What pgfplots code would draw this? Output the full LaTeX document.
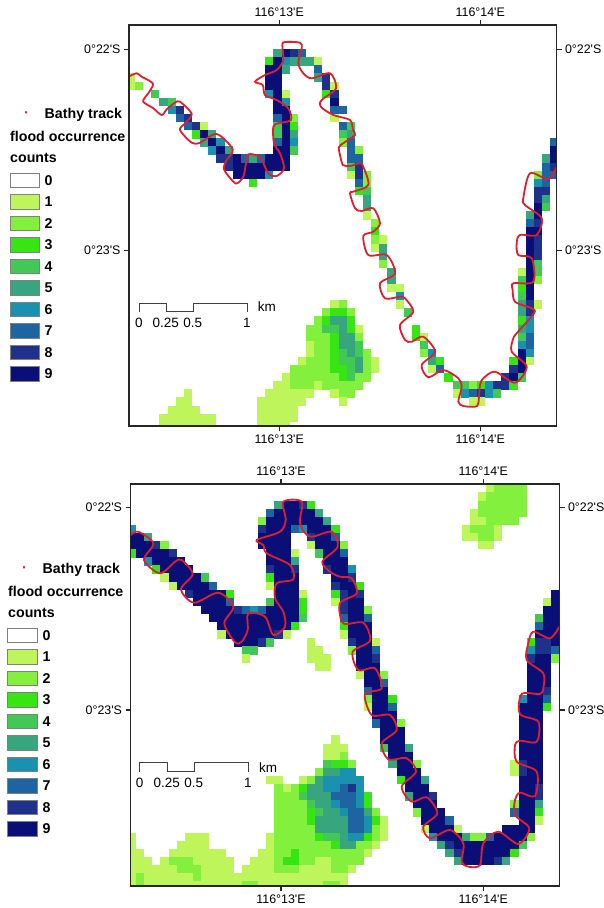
\documentclass[border=0pt]{standalone}
\usepackage{fontspec}
\setmainfont{Liberation Sans}[Ligatures=TeXOff]
\usepackage{pgfplots}
\usepackage{pgfplotstable}
\pgfplotsset{compat=1.18}
\definecolor{c1}{RGB}{190,245,90}
\definecolor{c2}{RGB}{130,240,60}
\definecolor{c3}{RGB}{55,228,20}
\definecolor{c4}{RGB}{65,200,85}
\definecolor{c5}{RGB}{55,165,125}
\definecolor{c6}{RGB}{25,145,175}
\definecolor{c7}{RGB}{30,100,160}
\definecolor{c8}{RGB}{30,50,140}
\definecolor{c9}{RGB}{10,15,120}
\definecolor{trk}{RGB}{225,30,45}
\pgfplotsset{
  colormap={flood}{
    rgb255(0cm)=(190,245,90); rgb255(9cm)=(190,245,90);
    rgb255(10cm)=(130,240,60); rgb255(19cm)=(130,240,60);
    rgb255(20cm)=(55,228,20);  rgb255(29cm)=(55,228,20);
    rgb255(30cm)=(65,200,85);  rgb255(39cm)=(65,200,85);
    rgb255(40cm)=(55,165,125); rgb255(49cm)=(55,165,125);
    rgb255(50cm)=(25,145,175); rgb255(59cm)=(25,145,175);
    rgb255(60cm)=(30,100,160); rgb255(69cm)=(30,100,160);
    rgb255(70cm)=(30,50,140);  rgb255(79cm)=(30,50,140);
    rgb255(80cm)=(10,15,120);  rgb255(90cm)=(10,15,120);
  },
  mapstyle/.style={
    scale only axis, clip=true,
    axis line style={line width=1.5pt,black!85},
    tick style={line width=1.1pt,black!85},
    major tick length=5pt, tick align=outside,
    tick pos=both,
    tick label style={font=\fontsize{12.4}{12.4}\selectfont},
    point meta min=0, point meta max=9,
    colormap name=flood,
  },
  topmap/.style={mapstyle,
    at={(129pt,-426pt)}, anchor=south west, width=427.5pt, height=401pt,
    xmin=129, xmax=556.5, ymin=-426, ymax=-25,
    xtick={279.3,480.3}, xticklabels={116°13'E,116°14'E},
    ytick={-250.7,-49.3}, yticklabels={0°23'S,0°22'S}},
  botmap/.style={mapstyle,
    at={(130.5pt,-886pt)}, anchor=south west, width=429pt, height=402pt,
    xmin=130.5, xmax=559.5, ymin=-886, ymax=-484,
    xtick={281,483.3}, xticklabels={116°13'E,116°14'E},
    ytick={-710,-507.3}, yticklabels={0°23'S,0°22'S}},
}
% rows of equal cells: first column, row, number of cells, flood count
\pgfplotstableread{
col row n c
18 3 1 5
19 3 1 9
20 3 1 8
21 3 1 7
17 4 1 3
18 4 1 9
19 4 1 6
20 4 3 5
23 4 1 1
17 5 2 9
19 5 1 5
23 5 1 7
0 6 1 1
17 6 2 9
23 6 1 5
24 6 1 8
0 7 1 1
1 7 1 2
17 7 2 9
24 7 1 8
25 7 1 1
3 8 1 4
17 8 1 6
18 8 1 9
19 8 1 1
24 8 1 3
25 8 1 8
4 9 1 5
5 9 1 4
18 9 1 9
19 9 1 6
25 9 1 9
5 10 1 6
6 10 1 8
18 10 2 9
25 10 2 7
6 11 1 7
7 11 1 8
18 11 1 7
19 11 1 9
20 11 1 2
25 11 1 1
7 12 1 7
8 12 1 8
9 12 1 1
18 12 1 4
19 12 1 9
20 12 1 3
26 12 1 7
27 12 1 4
8 13 1 3
9 13 1 9
10 13 1 5
18 13 1 4
19 13 1 9
20 13 1 5
26 13 1 4
27 13 1 5
9 14 1 5
10 14 1 9
11 14 1 6
18 14 1 7
19 14 1 9
20 14 1 6
26 14 1 2
27 14 1 7
52 14 1 7
10 15 1 6
11 15 1 9
12 15 1 5
18 15 2 9
20 15 1 4
27 15 1 7
28 15 1 2
52 15 1 9
11 16 2 8
13 16 1 9
14 16 1 7
15 16 1 5
16 16 1 7
17 16 3 9
27 16 1 7
28 16 1 7
51 16 1 5
52 16 1 9
12 17 1 8
13 17 7 9
27 17 1 4
28 17 1 8
51 17 1 7
52 17 1 8
13 18 4 9
17 18 1 6
27 18 1 1
28 18 1 8
29 18 1 2
50 18 1 2
51 18 2 7
15 19 1 3
28 19 1 7
29 19 1 2
50 19 1 6
51 19 1 7
28 20 1 3
29 20 1 4
50 20 2 8
29 21 1 5
50 21 1 8
51 21 1 5
29 22 1 5
50 22 1 9
51 22 1 4
29 23 1 1
49 23 1 5
50 23 1 9
30 24 1 2
49 24 1 7
50 24 1 8
30 25 1 3
49 25 2 9
30 26 1 2
31 26 1 1
49 26 1 9
50 26 1 8
30 27 1 1
31 27 1 5
49 27 1 9
50 27 1 8
31 28 1 5
49 28 1 9
50 28 1 8
31 29 1 2
49 29 1 9
50 29 1 4
32 30 1 5
48 30 1 1
49 30 1 9
50 30 1 4
32 31 1 5
48 31 1 4
49 31 1 9
50 31 1 2
32 32 2 1
48 32 1 3
49 32 1 9
33 33 1 6
48 33 1 4
49 33 1 9
33 34 1 1
48 34 1 5
49 34 1 8
50 34 1 1
25 34 1 1
26 34 1 2
34 35 1 4
48 35 1 5
49 35 1 8
24 35 1 2
25 35 2 3
27 35 1 2
48 36 1 3
49 36 1 6
23 36 1 2
24 36 1 3
25 36 2 5
27 36 1 3
35 37 1 3
48 37 1 5
49 37 1 6
22 37 2 2
24 37 2 4
26 37 1 5
27 37 1 3
28 37 1 1
35 38 1 3
36 38 1 1
48 38 1 4
49 38 1 7
22 38 3 2
25 38 1 3
26 38 2 5
28 38 1 2
36 39 1 4
48 39 1 6
49 39 1 7
22 39 1 1
23 39 2 2
25 39 1 3
26 39 2 5
28 39 1 4
36 40 1 2
37 40 1 6
48 40 1 9
49 40 1 6
22 40 1 1
23 40 2 2
25 40 1 3
26 40 1 4
27 40 1 5
28 40 1 4
29 40 1 2
37 41 1 5
38 41 1 3
47 41 1 3
48 41 1 9
49 41 1 1
21 41 1 1
22 41 3 2
25 41 1 3
26 41 2 4
28 41 1 5
29 41 1 2
30 41 1 1
37 42 1 1
38 42 1 7
47 42 1 8
48 42 1 9
20 42 5 2
25 42 2 3
27 42 1 4
28 42 1 5
29 42 1 2
30 42 1 1
39 43 1 3
46 43 1 8
47 43 1 9
48 43 1 4
19 43 1 1
20 43 6 2
26 43 1 3
27 43 1 4
28 43 2 2
40 44 2 4
42 44 1 2
43 44 1 3
44 44 1 6
45 44 2 8
47 44 1 3
18 44 2 1
20 44 3 2
23 44 1 1
24 44 5 2
40 45 1 1
41 45 1 6
42 45 1 7
43 45 1 8
44 45 1 6
45 45 1 4
7 45 1 1
17 45 6 1
25 45 1 1
26 45 2 2
42 46 2 1
6 46 2 1
16 46 6 1
26 46 1 1
5 47 4 1
16 47 5 1
4 48 7 1
16 48 5 1
4 49 7 1
16 49 4 1
}\toptab
\pgfplotstableread{
col row n c
44 0 1 1
45 0 4 2
43 1 1 1
44 1 5 2
43 2 6 2
18 2 1 5
19 2 2 9
21 2 1 8
22 2 1 3
17 3 1 7
18 3 5 9
23 3 1 5
42 3 1 1
43 3 6 2
16 4 1 2
17 4 7 9
24 4 1 5
42 4 2 1
44 4 4 2
0 5 1 6
16 5 1 8
17 5 3 9
20 5 1 7
21 5 1 6
22 5 3 9
25 5 1 3
41 5 1 1
42 5 3 2
45 5 1 1
0 6 2 9
2 6 1 5
16 6 4 9
22 6 1 8
23 6 2 9
25 6 1 7
41 6 2 1
43 6 2 2
45 6 1 1
0 7 3 9
3 7 1 8
4 7 1 2
16 7 4 9
22 7 1 1
23 7 3 9
26 7 1 2
43 7 2 1
0 8 1 3
1 8 4 9
5 8 1 8
17 8 3 9
20 8 1 1
23 8 1 4
24 8 2 9
26 8 1 7
2 9 1 6
3 9 4 9
17 9 3 9
20 9 1 5
24 9 3 9
3 10 1 3
4 10 4 9
17 10 1 8
18 10 2 9
20 10 1 8
24 10 1 8
25 10 2 9
27 10 1 6
4 11 1 1
5 11 4 9
9 11 1 4
17 11 1 3
18 11 3 9
25 11 2 9
27 11 1 8
5 12 1 1
6 12 4 9
10 12 1 7
17 12 1 1
18 12 3 9
25 12 1 8
26 12 2 9
28 12 1 3
7 13 1 8
8 13 4 9
12 13 1 3
18 13 3 9
21 13 1 1
25 13 1 3
26 13 1 8
27 13 1 9
28 13 1 8
52 13 1 9
8 14 4 9
12 14 1 7
17 14 1 4
18 14 3 9
21 14 1 3
25 14 1 1
26 14 1 8
27 14 2 9
51 14 1 1
52 14 1 9
9 15 4 9
13 15 1 8
14 15 1 7
15 15 1 6
16 15 1 7
17 15 4 9
21 15 1 3
26 15 1 8
27 15 2 9
29 15 1 2
51 15 2 9
10 16 11 9
21 16 1 4
26 16 1 7
27 16 2 9
29 16 1 7
50 16 1 4
51 16 2 9
11 17 9 9
20 17 1 3
26 17 1 3
27 17 3 9
50 17 1 7
51 17 2 9
11 18 1 1
12 18 6 9
18 18 1 8
19 18 1 1
26 18 1 1
27 18 3 9
50 18 3 9
13 19 3 9
16 19 1 8
17 19 1 4
22 19 1 1
27 19 1 8
28 19 2 9
30 19 1 1
49 19 1 3
50 19 2 8
52 19 1 9
14 20 2 4
22 20 2 1
27 20 1 2
28 20 2 9
30 20 1 7
49 20 1 6
50 20 2 8
52 20 1 7
14 21 1 1
22 21 3 1
28 21 2 9
30 21 1 8
49 21 1 8
50 21 2 9
52 21 1 2
23 22 2 1
28 22 3 9
49 22 3 9
28 23 1 1
29 23 2 9
31 23 1 2
49 23 3 9
29 24 2 9
31 24 1 7
49 24 3 9
29 25 1 7
30 25 2 9
49 25 2 9
51 25 1 8
29 26 1 2
30 26 2 9
32 26 1 3
48 26 1 6
49 26 2 9
51 26 1 7
29 27 1 1
30 27 2 9
32 27 1 7
48 27 3 9
51 27 1 3
30 28 3 9
48 28 3 9
30 29 1 7
31 29 2 9
33 29 1 2
48 29 3 9
31 30 3 9
48 30 3 9
25 31 1 1
31 31 3 9
48 31 3 9
24 32 3 1
31 32 1 4
32 32 2 9
34 32 1 5
48 32 3 9
24 33 2 1
26 33 1 2
32 33 3 9
48 33 3 9
24 34 1 4
25 34 2 3
27 34 1 2
32 34 1 5
33 34 2 9
35 34 1 2
47 34 1 1
48 34 1 8
49 34 2 9
23 35 1 2
24 35 2 5
26 35 2 6
33 35 3 9
47 35 1 1
48 35 1 8
49 35 2 9
17 36 2 1
21 36 1 1
22 36 1 2
23 36 1 5
24 36 5 6
33 36 1 3
34 36 2 9
36 36 1 5
48 36 3 9
18 37 1 2
19 37 1 1
20 37 1 2
21 37 1 3
22 37 2 5
24 37 2 6
26 37 1 7
27 37 1 8
28 37 1 6
34 37 3 9
48 37 2 9
50 37 1 8
18 38 3 2
21 38 1 4
22 38 3 5
25 38 3 7
28 38 1 6
29 38 1 3
34 38 1 5
35 38 2 9
37 38 1 8
48 38 2 9
50 38 1 8
18 39 4 2
22 39 1 4
23 39 2 5
25 39 1 6
26 39 2 7
28 39 1 6
29 39 1 3
35 39 3 9
47 39 1 2
48 39 2 9
50 39 1 5
18 40 4 2
22 40 1 3
23 40 1 4
24 40 2 5
26 40 1 6
27 40 2 7
29 40 1 5
30 40 1 2
35 40 1 2
36 40 3 9
47 40 1 7
48 40 2 9
50 40 1 3
18 41 4 2
22 41 1 3
23 41 4 5
27 41 2 7
29 41 1 6
30 41 1 3
31 41 1 1
36 41 3 9
39 41 1 7
48 41 2 9
50 41 1 1
18 42 5 2
23 42 4 5
27 42 2 7
29 42 1 6
30 42 1 2
31 42 1 1
36 42 1 1
37 42 3 9
40 42 1 1
46 42 4 9
0 43 1 1
7 43 3 1
17 43 1 1
18 43 5 2
23 43 1 3
24 43 2 4
26 43 1 5
27 43 2 6
29 43 1 3
30 43 1 2
31 43 1 1
37 43 1 6
38 43 3 9
41 43 1 5
42 43 2 2
44 43 1 7
45 43 4 9
49 43 1 2
0 44 1 1
6 44 4 1
17 44 1 1
18 44 7 2
25 44 1 3
26 44 2 5
28 44 2 2
30 44 1 1
38 44 1 5
39 44 1 8
40 44 8 9
48 44 1 4
0 45 2 1
5 45 7 1
16 45 2 1
18 45 2 2
20 45 1 3
21 45 8 2
29 45 1 1
39 45 1 5
40 45 1 8
41 45 6 9
47 45 1 3
0 46 3 1
4 46 1 1
5 46 3 2
8 46 5 1
15 46 3 1
18 46 1 2
19 46 2 3
21 46 2 2
23 46 2 1
25 46 4 2
40 46 1 5
41 46 4 9
45 46 1 8
46 46 1 5
0 47 6 1
6 47 3 2
9 47 4 1
14 47 4 1
18 47 3 2
21 47 4 1
25 47 2 2
27 47 1 1
0 48 1 1
1 48 1 2
2 48 6 1
8 48 1 2
9 48 18 1
0 49 1 1
1 49 1 2
2 49 12 1
14 49 2 2
16 49 8 1
24 49 2 2
26 49 1 1
}\bottab
\newcommand{\legendat}[3]{% x of patches, x of labels, y of the first patch top
  \foreach \i/\colr in {0/white,1/c1,2/c2,3/c3,4/c4,5/c5,6/c6,7/c7,8/c8,9/c9}{
    \draw[draw=black!50,line width=1pt,fill=\colr] (#1,{#3+21.5*\i}) rectangle ++(29.5,14.5);
    \node[anchor=west,inner sep=0pt,font=\fontsize{14.2}{14.2}\selectfont\bfseries] at (#2,{#3+7.2+21.5*\i}) {\i};
  }
}
\begin{document}
\begin{tikzpicture}
\path[use as bounding box] (0,0) rectangle (603pt,-908pt);
\begin{axis}[topmap, xticklabel pos=lower, yticklabel pos=left]
\addplot[line width=8.35pt, quiver={u=8.14*\thisrow{n}, v=0, colored=mapped color}, point meta={\thisrow{c}-0.5}]
  table[x expr={126.9+8.14*\thisrow{col}}, y expr={-(25+8.1*(\thisrow{row}+0.5))}] {\toptab};
\addplot[trk, line width=1.8pt, smooth, tension=0.5] table[x=x, y expr={-\thisrow{py}}] {
x py
130 76
136.7 73.3
141.7 76.7
152.7 83.3
150 90.7
143.3 100
145 103.3
153.3 108.3
161.7 115
166.7 109.3
175 102.7
180 101.7
191.7 114
185 123.3
180 130
191.7 142.7
200 142.7
216.7 134
232.7 149.3
226.7 160
224 169.3
233.3 181.7
237.3 183.3
243.3 176.7
246 163.3
248.3 154.3
260 157.3
268.3 173.3
276.7 176
284 168.3
280 153.3
274 143.3
273.3 126.7
278.3 123.3
291 120
288.3 108.3
276.7 100
265 95
262.7 85
255 81.7
265 75
276.7 70
283.3 60
282.3 45
285 42
300 42.7
301.7 48.3
298.3 63.3
303.3 73.3
311.7 78.3
330 73.3
336 88.3
321.7 100
320.7 106.7
333.3 115
350 120
353 130
355 135
345 142
339 147
340 155
343 165
350 166
360 163.3
363.3 166.7
368.3 185
353.3 191.7
350 193.3
355 208.3
361.7 211
373.3 208.3
380 223.3
373.3 231.7
363.3 236
368.3 255
386.7 255
395 273.3
380 283.3
385 298.3
400 296.7
405 298.3
413.3 311.7
400 325
405 340
411.7 341.7
423.3 336.7
435 351.7
421.7 365
428.3 377.3
443.3 370
458.3 378.3
461.7 386.7
458.3 401.7
463.3 406
475 406.7
478.3 403.3
480 385
483.3 378.3
495 371.7
515 382.7
526.7 366.7
511.7 351.7
513.3 338.3
516.7 333.3
534 313.3
531.7 308.3
515 301.7
512.7 290
513.3 283.3
533.3 281.7
531.7 258.3
518.3 255
516.7 243.3
520 235
536.7 235
541.7 218.3
525 205
523.3 198.3
530 173.3
548.3 179.3
556.7 166.7
};
\end{axis}
\begin{axis}[topmap, xticklabel pos=upper, yticklabel pos=right]
\end{axis}
\begin{axis}[botmap, xticklabel pos=lower, yticklabel pos=left]
\addplot[line width=8.35pt, quiver={u=8.14*\thisrow{n}, v=0, colored=mapped color}, point meta={\thisrow{c}-0.5}]
  table[x expr={127.9+8.14*\thisrow{col}}, y expr={-(484.5+8.1*(\thisrow{row}+0.5))}] {\bottab};
\addplot[trk, line width=1.8pt, smooth, tension=0.5] table[x=x, y expr={-\thisrow{py}}] {
x py
131 535
138.3 531.7
153.3 543.3
144 560
160 573.3
175 561.7
181.7 560
192.7 574
181 589.3
194 602.7
218.3 592.7
233.3 606.7
224.3 623.3
235 642.3
241.7 641.7
247.7 630
248.3 613.3
265 616.7
273.3 635
285 626.7
283.3 611.7
275 598.3
276.7 583.3
293.3 579.3
290 565
266.7 553.3
263.3 545
256.7 540
280 531.7
285.7 520
283.3 501.7
301.7 501.7
300 523.3
310 536.7
331.7 531.7
337.7 546.7
322.3 561.7
330 571.7
340 576.7
351.7 578.3
356.7 593.3
340 603.3
343.3 623.3
363.3 622.7
370 640.7
352.7 651.7
358.3 670
375 668.3
381.7 688.3
365 694
371.7 715
390 715
396.7 730
381.7 743.3
388.3 759.3
406.7 758.3
416 771.7
401.7 786.7
411.7 801.7
426.7 797.3
437.3 813.3
423.3 826.7
430 838.3
450 830
463.3 843.3
461.7 861.7
468.3 866.7
480 865
483.3 843.3
498.3 831.7
518.3 844
529.3 828.3
515 815
515 800
520 792.7
535 796
536.7 771.7
516.7 761.7
515 745
520 740.7
536.7 741.7
538.3 721.7
520 714
521.7 694
540 694
543.3 688.3
543.3 673.3
526.7 660
528.3 643.3
533.3 631.7
550 638.3
559.3 626.7
};
\end{axis}
\begin{axis}[botmap, xticklabel pos=upper, yticklabel pos=right]
\end{axis}
\begin{scope}[x=1pt,y=-1pt]
\draw[line width=1pt,black!75] (139,311.7)--(139,303.3)--(166,303.3)--(166,311.7)--(193.3,311.7)--(193.3,303.3)--(247.3,303.3)--(247.3,311.7);
\foreach \x/\t in {139/0,165.7/0.25,192.7/0.5,247/1}{\node[font=\fontsize{13.5}{13.5}\selectfont] at (\x,322.7) {\t};}
\node[anchor=west,inner sep=0pt,font=\fontsize{13.5}{13.5}\selectfont] at (257.7,307) {km};
\draw[line width=1pt,black!75] (139.7,771.7)--(139.7,762.7)--(167,762.7)--(167,771.7)--(194,771.7)--(194,762.7)--(248.7,762.7)--(248.7,771.7);
\foreach \x/\t in {139.7/0,166.7/0.25,193.7/0.5,248/1}{\node[font=\fontsize{13.5}{13.5}\selectfont] at (\x,782.7) {\t};}
\node[anchor=west,inner sep=0pt,font=\fontsize{13.5}{13.5}\selectfont] at (259,767.7) {km};
\begin{scope}[every node/.style={anchor=west,inner sep=0pt,font=\fontsize{14.2}{14.2}\selectfont\bfseries}]
\node at (24,115) {\textcolor{trk}{·}};
\node at (44.5,115) {Bathy track};
\node at (10,136.7) {flood occurrence};
\node at (10,158) {counts};
\node at (22,570) {\textcolor{trk}{·}};
\node at (42.5,570) {Bathy track};
\node at (8,591.7) {flood occurrence};
\node at (8,613) {counts};
\end{scope}
\legendat{10}{44.5}{173.3}
\legendat{7.7}{42.5}{628.3}
\end{scope}
\end{tikzpicture}
\end{document}
